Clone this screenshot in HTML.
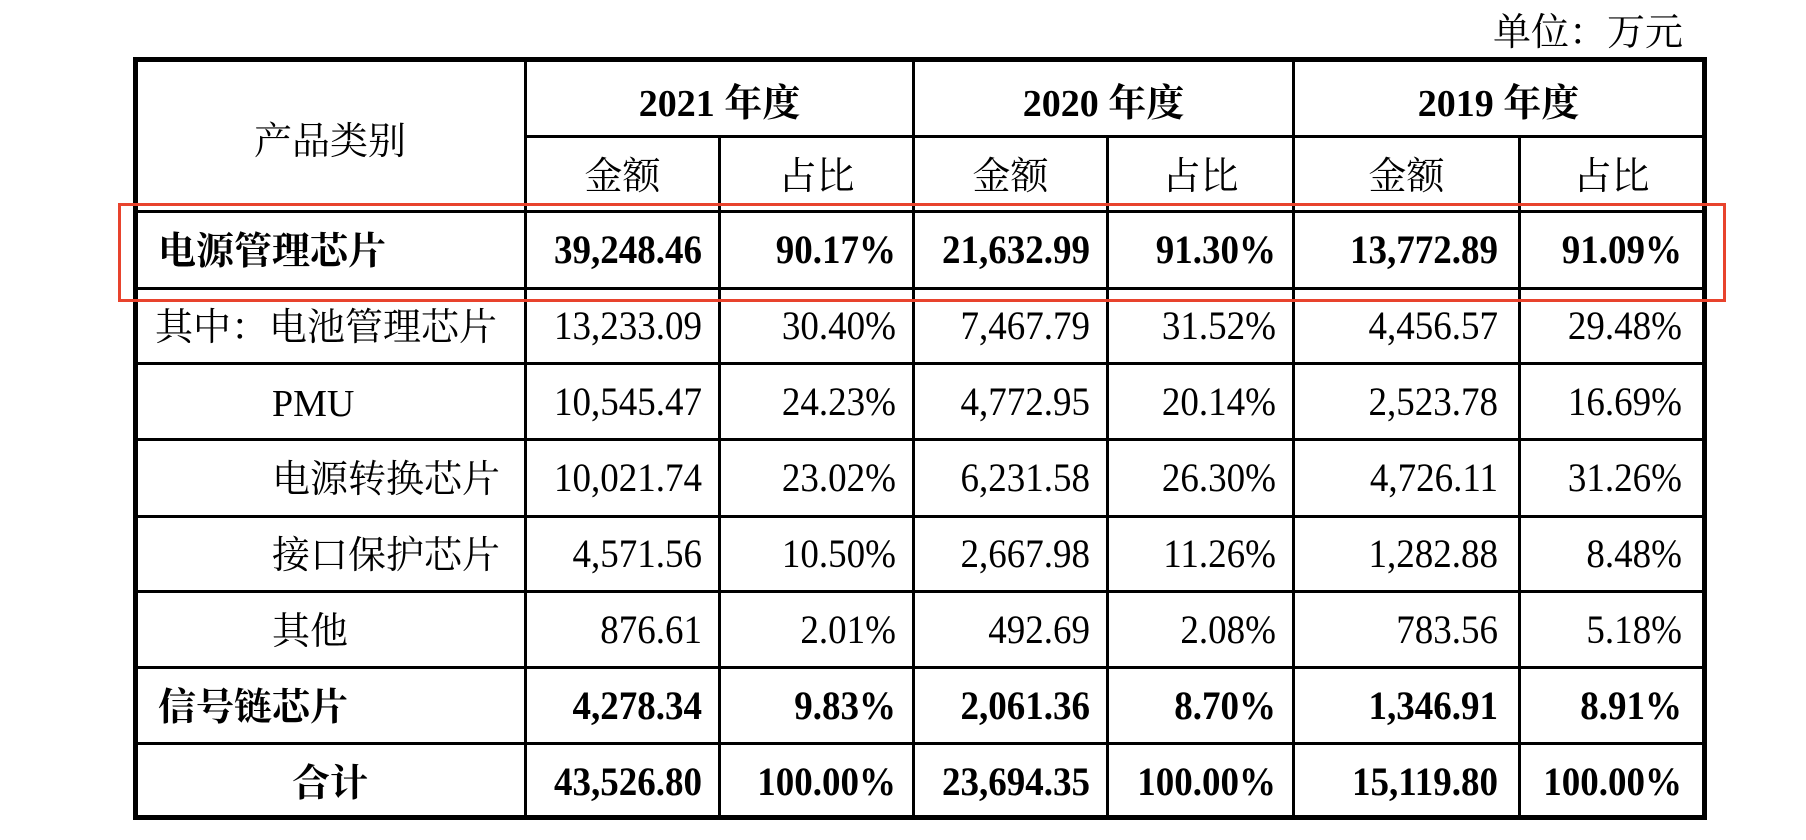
<!DOCTYPE html>
<html><head><meta charset="utf-8"><style>
html,body{margin:0;padding:0;background:#fff;}
body{width:1806px;height:840px;position:relative;overflow:hidden;font-family:"Liberation Serif","Noto Serif CJK SC",serif;color:#000;}
.h{position:absolute;background:#000;}
.t{position:absolute;font-size:37px;line-height:40px;white-space:nowrap;}
.z{font-size:38px;}
.r{text-align:right;transform:scaleY(1.1);}
.b{font-weight:bold;}
.c{text-align:center;}
</style></head><body>
<div class="t" style="left:1493px;top:13px;font-size:38px;">单位：万元</div>

<div class="h" style="left:133px;top:57px;width:1574px;height:5px;"></div>
<div class="h" style="left:133px;top:815px;width:1574px;height:5px;"></div>
<div class="h" style="left:133px;top:57px;width:5px;height:763px;"></div>
<div class="h" style="left:1702px;top:57px;width:5px;height:763px;"></div>

<div class="h" style="left:526px;top:135px;width:1178px;height:3px;"></div>
<div class="h" style="left:135px;top:210px;width:1569px;height:3px;"></div>
<div class="h" style="left:135px;top:287px;width:1569px;height:3px;"></div>
<div class="h" style="left:135px;top:362px;width:1569px;height:3px;"></div>
<div class="h" style="left:135px;top:438px;width:1569px;height:3px;"></div>
<div class="h" style="left:135px;top:515px;width:1569px;height:3px;"></div>
<div class="h" style="left:135px;top:590px;width:1569px;height:3px;"></div>
<div class="h" style="left:135px;top:666px;width:1569px;height:3px;"></div>
<div class="h" style="left:135px;top:742px;width:1569px;height:3px;"></div>

<div class="h" style="left:524px;top:60px;width:3px;height:758px;"></div>
<div class="h" style="left:718px;top:136px;width:3px;height:682px;"></div>
<div class="h" style="left:912px;top:60px;width:3px;height:758px;"></div>
<div class="h" style="left:1106px;top:136px;width:3px;height:682px;"></div>
<div class="h" style="left:1292px;top:60px;width:3px;height:758px;"></div>
<div class="h" style="left:1518px;top:136px;width:3px;height:682px;"></div>

<div style="position:absolute;left:118px;top:203px;width:1602px;height:93px;border:3px solid #e8432d;"></div>

<div class="t c z" style="left:135px;width:390px;top:122px;">产品类别</div>
<div class="t c b z" style="left:526px;width:387px;top:84px;">2021 年度</div>
<div class="t c b z" style="left:914px;width:379px;top:84px;">2020 年度</div>
<div class="t c b z" style="left:1294px;width:409px;top:84px;">2019 年度</div>
<div class="t c z" style="left:526px;width:193px;top:157px;">金额</div>
<div class="t c z" style="left:720px;width:193px;top:157px;">占比</div>
<div class="t c z" style="left:914px;width:193px;top:157px;">金额</div>
<div class="t c z" style="left:1108px;width:185px;top:157px;">占比</div>
<div class="t c z" style="left:1294px;width:225px;top:157px;">金额</div>
<div class="t c z" style="left:1520px;width:183px;top:157px;">占比</div>

<div class="t b z" style="left:158px;top:232px;">电源管理芯片</div>
<div class="t z" style="left:155px;top:308px;">其中：电池管理芯片</div>
<div class="t z" style="left:272px;top:384px;">PMU</div>
<div class="t z" style="left:272px;top:460px;">电源转换芯片</div>
<div class="t z" style="left:272px;top:536px;">接口保护芯片</div>
<div class="t z" style="left:272px;top:612px;">其他</div>
<div class="t b z" style="left:158px;top:688px;">信号链芯片</div>
<div class="t c b z" style="left:135px;width:390px;top:764px;">合计</div>

<div class="t r b" style="right:1104px;top:231px;">39,248.46</div>
<div class="t r b" style="right:910px;top:231px;">90.17%</div>
<div class="t r b" style="right:716px;top:231px;">21,632.99</div>
<div class="t r b" style="right:530px;top:231px;">91.30%</div>
<div class="t r b" style="right:308px;top:231px;">13,772.89</div>
<div class="t r b" style="right:124px;top:231px;">91.09%</div>

<div class="t r" style="right:1104px;top:307px;">13,233.09</div>
<div class="t r" style="right:910px;top:307px;">30.40%</div>
<div class="t r" style="right:716px;top:307px;">7,467.79</div>
<div class="t r" style="right:530px;top:307px;">31.52%</div>
<div class="t r" style="right:308px;top:307px;">4,456.57</div>
<div class="t r" style="right:124px;top:307px;">29.48%</div>

<div class="t r" style="right:1104px;top:383px;">10,545.47</div>
<div class="t r" style="right:910px;top:383px;">24.23%</div>
<div class="t r" style="right:716px;top:383px;">4,772.95</div>
<div class="t r" style="right:530px;top:383px;">20.14%</div>
<div class="t r" style="right:308px;top:383px;">2,523.78</div>
<div class="t r" style="right:124px;top:383px;">16.69%</div>

<div class="t r" style="right:1104px;top:459px;">10,021.74</div>
<div class="t r" style="right:910px;top:459px;">23.02%</div>
<div class="t r" style="right:716px;top:459px;">6,231.58</div>
<div class="t r" style="right:530px;top:459px;">26.30%</div>
<div class="t r" style="right:308px;top:459px;">4,726.11</div>
<div class="t r" style="right:124px;top:459px;">31.26%</div>

<div class="t r" style="right:1104px;top:535px;">4,571.56</div>
<div class="t r" style="right:910px;top:535px;">10.50%</div>
<div class="t r" style="right:716px;top:535px;">2,667.98</div>
<div class="t r" style="right:530px;top:535px;">11.26%</div>
<div class="t r" style="right:308px;top:535px;">1,282.88</div>
<div class="t r" style="right:124px;top:535px;">8.48%</div>

<div class="t r" style="right:1104px;top:611px;">876.61</div>
<div class="t r" style="right:910px;top:611px;">2.01%</div>
<div class="t r" style="right:716px;top:611px;">492.69</div>
<div class="t r" style="right:530px;top:611px;">2.08%</div>
<div class="t r" style="right:308px;top:611px;">783.56</div>
<div class="t r" style="right:124px;top:611px;">5.18%</div>

<div class="t r b" style="right:1104px;top:687px;">4,278.34</div>
<div class="t r b" style="right:910px;top:687px;">9.83%</div>
<div class="t r b" style="right:716px;top:687px;">2,061.36</div>
<div class="t r b" style="right:530px;top:687px;">8.70%</div>
<div class="t r b" style="right:308px;top:687px;">1,346.91</div>
<div class="t r b" style="right:124px;top:687px;">8.91%</div>

<div class="t r b" style="right:1104px;top:763px;">43,526.80</div>
<div class="t r b" style="right:910px;top:763px;">100.00%</div>
<div class="t r b" style="right:716px;top:763px;">23,694.35</div>
<div class="t r b" style="right:530px;top:763px;">100.00%</div>
<div class="t r b" style="right:308px;top:763px;">15,119.80</div>
<div class="t r b" style="right:124px;top:763px;">100.00%</div>
</body></html>
